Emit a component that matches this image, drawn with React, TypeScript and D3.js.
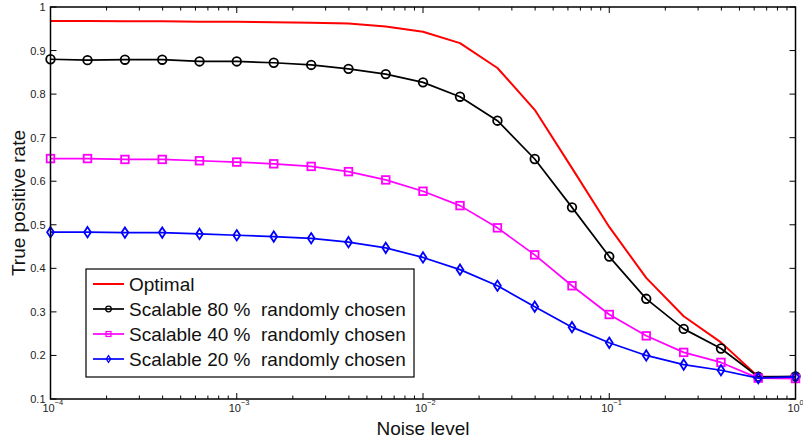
import React from "react";
import * as d3 from "d3";

const noiseLevels = [0.0001, 0.000158, 0.000251, 0.000398, 0.000631, 0.001, 0.00158, 0.00251, 0.00398, 0.00631, 0.01, 0.0158, 0.0251, 0.0398, 0.0631, 0.1, 0.158, 0.251, 0.398, 0.631, 1];
const optimal = [0.968, 0.968, 0.967, 0.967, 0.966, 0.966, 0.965, 0.964, 0.962, 0.955, 0.943, 0.917, 0.860, 0.764, 0.630, 0.495, 0.378, 0.290, 0.230, 0.151, 0.150];
const scal80 = [0.880, 0.878, 0.879, 0.879, 0.875, 0.875, 0.872, 0.867, 0.858, 0.846, 0.827, 0.794, 0.739, 0.651, 0.540, 0.427, 0.330, 0.261, 0.216, 0.151, 0.152];
const scal40 = [0.652, 0.652, 0.650, 0.650, 0.647, 0.644, 0.640, 0.634, 0.622, 0.603, 0.577, 0.544, 0.493, 0.431, 0.360, 0.294, 0.245, 0.207, 0.184, 0.148, 0.147];
const scal20 = [0.483, 0.483, 0.482, 0.482, 0.479, 0.476, 0.473, 0.469, 0.460, 0.447, 0.425, 0.397, 0.360, 0.312, 0.265, 0.229, 0.200, 0.179, 0.166, 0.148, 0.151];
const yTicks = [0.1, 0.2, 0.3, 0.4, 0.5, 0.6, 0.7, 0.8, 0.9, 1];
const yTickLabels = ["0.1", "0.2", "0.3", "0.4", "0.5", "0.6", "0.7", "0.8", "0.9", "1"];
const xMajor = [1e-4, 1e-3, 1e-2, 1e-1, 1];
const xMajorExp = ["\u22124", "\u22123", "\u22122", "\u22121", "0"];
const legendLabels = ["Optimal", "Scalable 80 %\u00A0 randomly chosen", "Scalable 40 %\u00A0 randomly chosen", "Scalable 20 %\u00A0 randomly chosen"];

const FONT = "'Liberation Sans', Arial, Helvetica, sans-serif";
const L = 50.5, R = 795.5, T = 7, B = 399;

type Marker = "none" | "circle" | "square" | "diamond";
const seriesList: { values: number[]; color: string; marker: Marker; width: number }[] = [
  { values: optimal, color: "#ff0000", marker: "none", width: 2 },
  { values: scal80, color: "#000000", marker: "circle", width: 1.7 },
  { values: scal40, color: "#ff00ff", marker: "square", width: 1.7 },
  { values: scal20, color: "#0000ff", marker: "diamond", width: 1.7 },
];

function MarkerShape({ type, x, y, color, s = 1 }: { type: Marker; x: number; y: number; color: string; s?: number }) {
  const sw = 1.8 * Math.max(s, 0.7);
  if (type === "circle") return <circle cx={x} cy={y} r={4.3 * s} fill="none" stroke={color} strokeWidth={sw} />;
  if (type === "square") return <rect x={x - 3.8 * s} y={y - 3.8 * s} width={7.6 * s} height={7.6 * s} fill="none" stroke={color} strokeWidth={sw} />;
  if (type === "diamond") return <path d={`M${x},${y - 5.2 * s} L${x + 3.4 * s},${y} L${x},${y + 5.2 * s} L${x - 3.4 * s},${y} Z`} fill="none" stroke={color} strokeWidth={sw} />;
  return null;
}

export default function App() {
  const x = d3.scaleLog().domain([1e-4, 1]).range([L, R]);
  const y = d3.scaleLinear().domain([0.1, 1]).range([B, T]);
  const line = d3.line<number>().x((_, i) => x(noiseLevels[i])).y((d) => y(d));

  const minorTicks: number[] = [];
  for (let e = -4; e < 0; e++) for (let m = 2; m <= 9; m++) minorTicks.push(m * Math.pow(10, e));

  const legX = 86, legY = 269, legW = 328, legH = 108;
  return (
    <svg width={803} height={443} style={{ position: "absolute", left: 0, top: 0, background: "#fff" }}>
      <rect x={0} y={0} width={803} height={443} fill="#fff" />
      {seriesList.map((s, si) => (
        <g key={si}>
          <path d={line(s.values) || ""} fill="none" stroke={s.color} strokeWidth={s.width} strokeLinejoin="round" />
          {s.marker !== "none" && s.values.map((v, i) => (
            <MarkerShape key={i} type={s.marker} x={x(noiseLevels[i])} y={y(v)} color={s.color} />
          ))}
        </g>
      ))}
      <rect x={L} y={T} width={R - L} height={B - T} fill="none" stroke="#000" strokeWidth={1.5} />
      {yTicks.map((t, i) => (
        <g key={i}>
          <line x1={L} x2={L + 6} y1={y(t)} y2={y(t)} stroke="#000" strokeWidth={1} />
          <line x1={R} x2={R - 6} y1={y(t)} y2={y(t)} stroke="#000" strokeWidth={1} />
          <text x={L - 5} y={y(t) + 4} textAnchor="end" fontFamily={FONT} fontSize={11} fill="#222">{yTickLabels[i]}</text>
        </g>
      ))}
      {xMajor.map((t, i) => (
        <g key={i}>
          <line x1={x(t)} x2={x(t)} y1={B} y2={B - 6} stroke="#000" strokeWidth={1} />
          <line x1={x(t)} x2={x(t)} y1={T} y2={T + 6} stroke="#000" strokeWidth={1} />
          <text x={x(t) - 2} y={412} textAnchor="middle" fontFamily={FONT} fontSize={11} fill="#222">10</text>
          <text x={x(t) + 4} y={405} textAnchor="start" fontFamily={FONT} fontSize={7.5} fill="#222">{xMajorExp[i]}</text>
        </g>
      ))}
      {minorTicks.map((t, i) => (
        <g key={"m" + i}>
          <line x1={x(t)} x2={x(t)} y1={B} y2={B - 3.5} stroke="#000" strokeWidth={1} />
          <line x1={x(t)} x2={x(t)} y1={T} y2={T + 3.5} stroke="#000" strokeWidth={1} />
        </g>
      ))}
      <text x={423} y={435} textAnchor="middle" fontFamily={FONT} fontSize={19} fill="#111">Noise level</text>
      <text transform={`translate(25,${(T + B) / 2}) rotate(-90)`} textAnchor="middle" fontFamily={FONT} fontSize={19} fill="#111">True positive rate</text>
      <rect x={legX} y={legY} width={legW} height={legH} fill="#fff" stroke="#000" strokeWidth={1.2} />
      {seriesList.map((s, i) => {
        const ly = 284 + i * 25;
        return (
          <g key={"l" + i}>
            <line x1={93} x2={124} y1={ly} y2={ly} stroke={s.color} strokeWidth={s.width} />
            {s.marker !== "none" && <MarkerShape type={s.marker} x={108.5} y={ly} color={s.color} s={0.65} />}
            <text x={129} y={ly + 7} fontFamily={FONT} fontSize={19} fill="#111">{legendLabels[i]}</text>
          </g>
        );
      })}
    </svg>
  );
}
